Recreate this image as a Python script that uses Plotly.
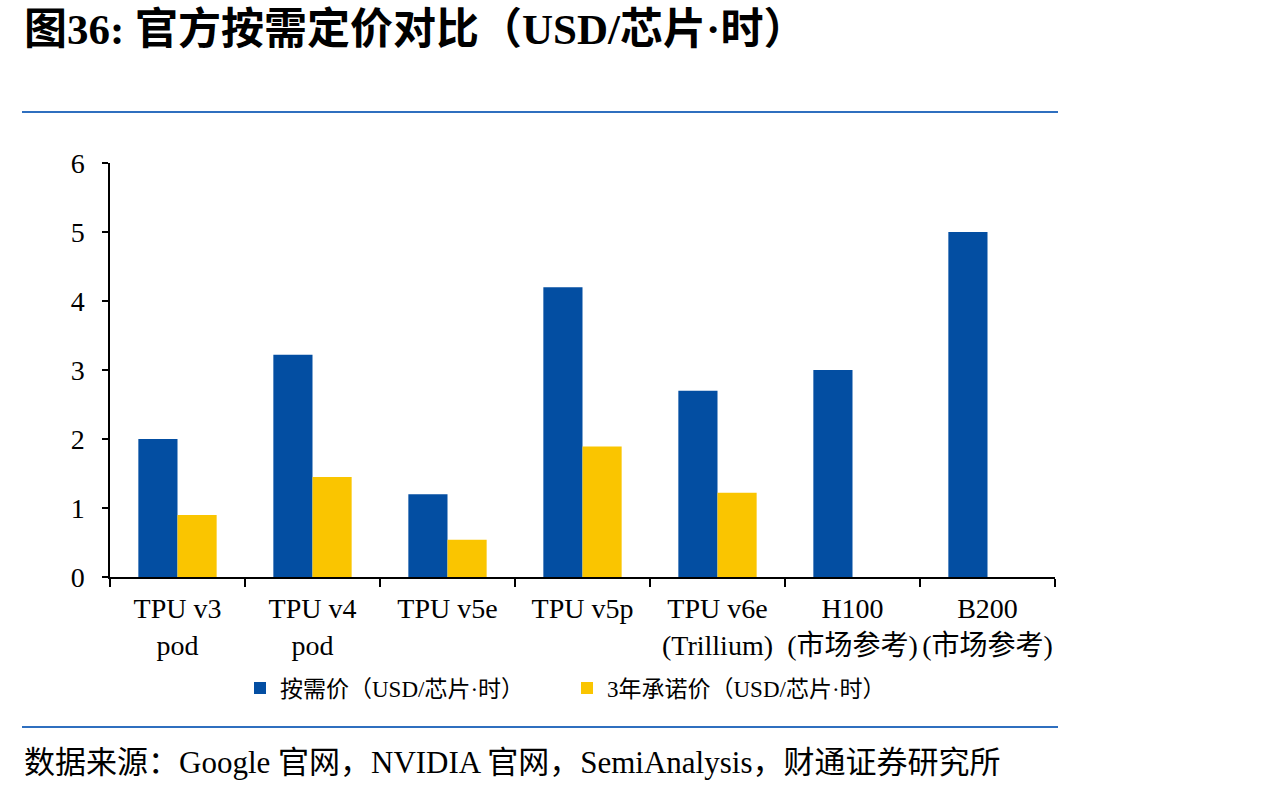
import plotly.graph_objects as go

categories = ["TPU v3<br>pod", "TPU v4<br>pod", "TPU v5e", "TPU v5p", "TPU v6e<br>(Trillium)", "H100<br>(市场参考)", "B200<br>(市场参考)"]
on_demand = [2.00, 3.22, 1.20, 4.20, 2.70, 3.00, 5.00]
commit_3yr = [0.90, 1.45, 0.54, 1.89, 1.22, None, None]
series_names = ["按需价（USD/芯片·时）", "3年承诺价（USD/芯片·时）"]
y_ticks = [0, 1, 2, 3, 4, 5, 6]

BLUE = "#034EA2"
YELLOW = "#FAC500"
FONT = "Liberation Serif, Noto Sans CJK SC, serif"

W, H = 1274, 792
L, R, T, B = 110, 1274 - 1055, 163, 792 - 577
pw, ph = W - L - R, H - T - B

def px(x):
    return (x - L) / pw

def py(y):
    return (H - B - y) / ph

fig = go.Figure()
fig.add_trace(go.Bar(x=categories, y=on_demand, name=series_names[0], marker_color=BLUE, marker_line_width=0))
fig.add_trace(go.Bar(x=categories, y=commit_3yr, name=series_names[1], marker_color=YELLOW, marker_line_width=0))

fig.update_layout(
    width=W, height=H,
    margin=dict(l=L, r=R, t=T, b=B, autoexpand=False),
    paper_bgcolor="white", plot_bgcolor="white",
    barmode="group", bargap=0.42, bargroupgap=0,
    font=dict(family=FONT, color="black"),
    showlegend=True,
    legend=dict(orientation="h", x=px(240), xanchor="left", y=py(688), yanchor="middle",
                font=dict(size=23, family=FONT), entrywidth=282, entrywidthmode="pixels",
                itemwidth=30, bgcolor="rgba(0,0,0,0)", traceorder="normal"),
    xaxis=dict(showline=True, linecolor="black", linewidth=1.5, ticks="outside", tickson="boundaries",
               ticklen=8, tickcolor="black", tickwidth=1.5, tickfont=dict(size=28, family=FONT),
               tickangle=0, showgrid=False, ticklabelstandoff=6),
    yaxis=dict(range=[0, 6], tickvals=y_ticks, showline=True, linecolor="black", linewidth=1.5,
               ticks="outside", ticklen=6, tickcolor="black", tickwidth=1.5,
               tickfont=dict(size=28, family=FONT), showgrid=False, zeroline=False,
               ticklabelstandoff=12),
    shapes=[
        dict(type="line", xref="paper", yref="paper", x0=px(22), x1=px(1058), y0=py(112), y1=py(112),
             line=dict(color="#2F6FBF", width=2)),
        dict(type="line", xref="paper", yref="paper", x0=px(22), x1=px(1058), y0=py(727), y1=py(727),
             line=dict(color="#2F6FBF", width=2)),
    ],
    annotations=[
        dict(text="<b>图36: 官方按需定价对比（USD/芯片·时）</b>", xref="paper", yref="paper",
             x=px(22), y=py(30), xanchor="left", yanchor="middle", showarrow=False,
             font=dict(size=43, family=FONT, color="black")),
        dict(text="数据来源：Google 官网，NVIDIA 官网，SemiAnalysis，财通证券研究所", xref="paper", yref="paper",
             x=px(22), y=py(762), xanchor="left", yanchor="middle", showarrow=False,
             font=dict(size=31, family=FONT, color="black")),
    ],
)

fig.write_html("out.html")
